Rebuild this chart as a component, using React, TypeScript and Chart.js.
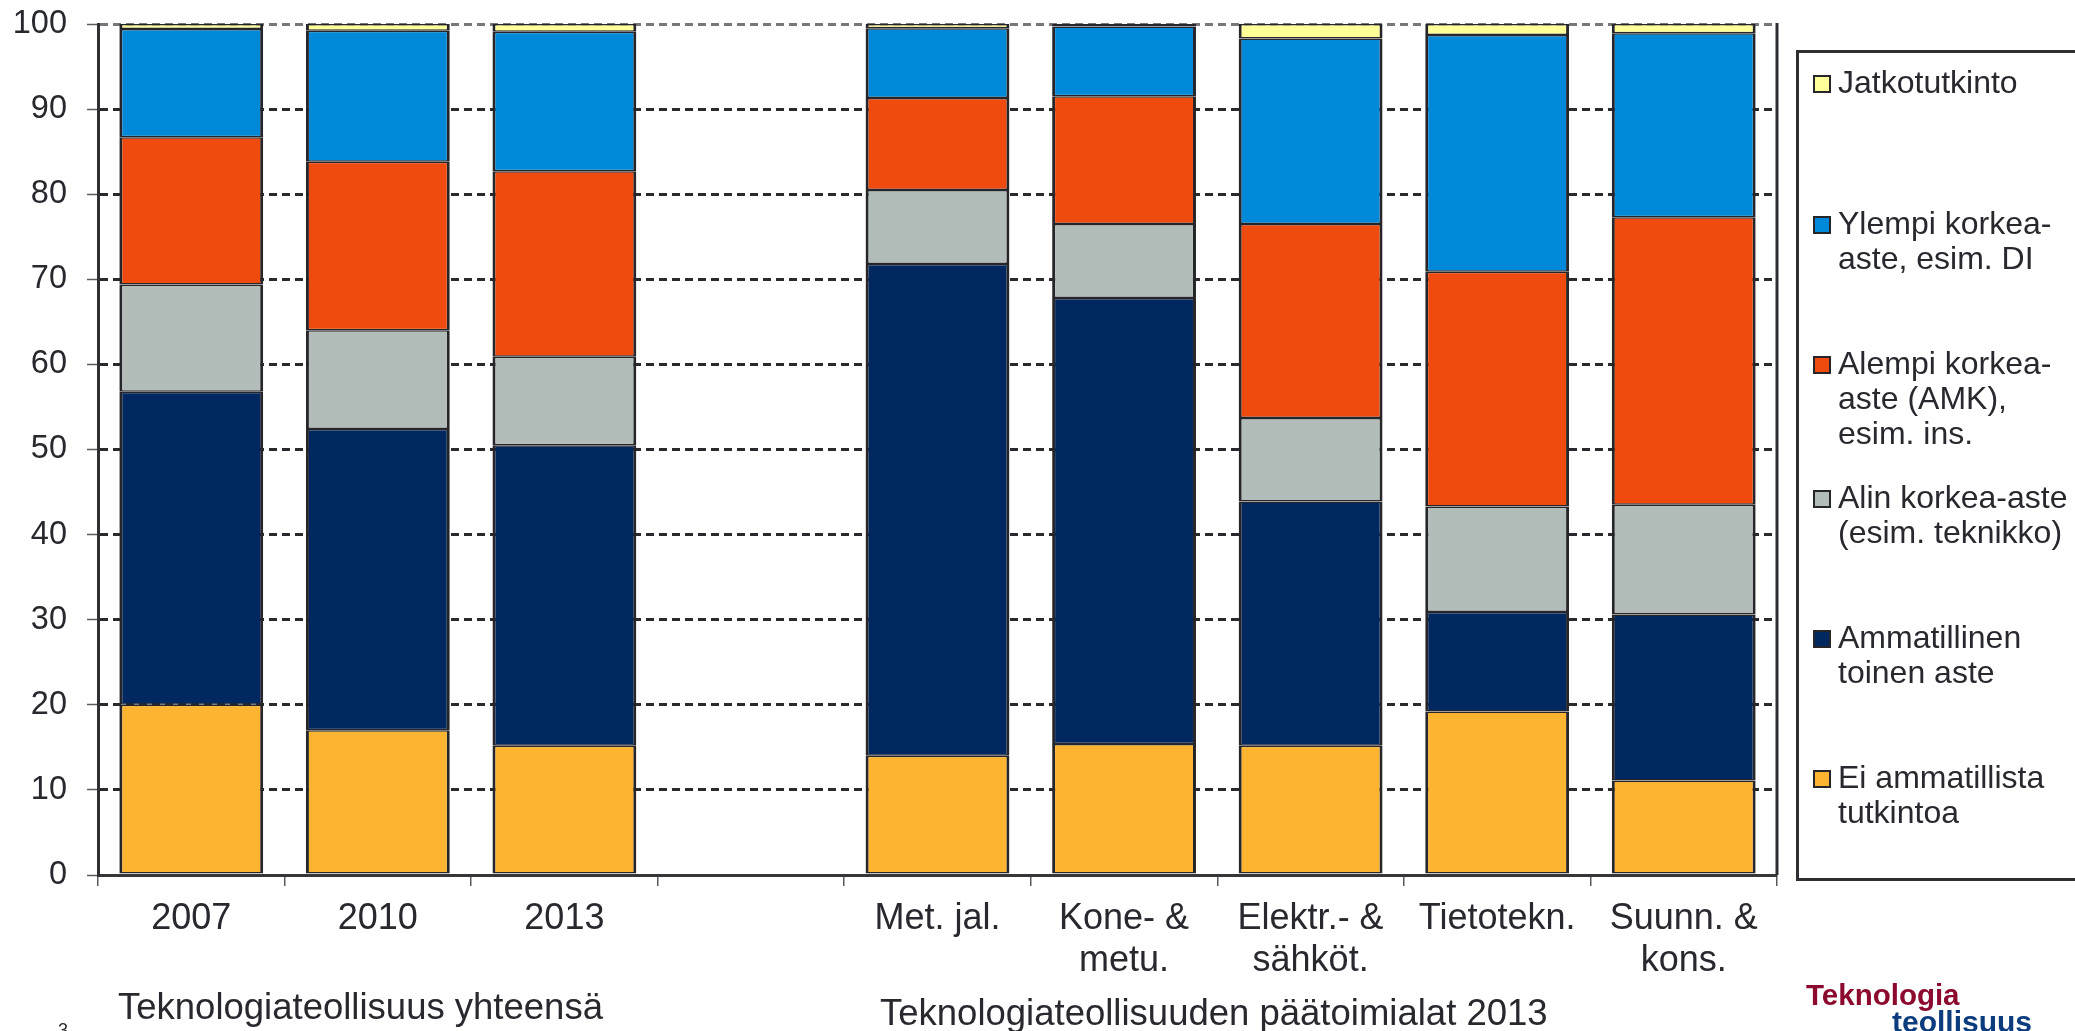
import React, { useEffect, useRef } from "react";
import { Chart, registerables } from "chart.js";

Chart.register(...registerables);

// ---------- DATA ----------
const categories: (string | string[])[] = [
  "2007",
  "2010",
  "2013",
  "",
  ["Met. jal."],
  ["Kone- &", "metu."],
  ["Elektr.- &", "sähköt."],
  ["Tietotekn."],
  ["Suunn. &", "kons."],
];

// stacked from bottom to top (percent)
const eiAmmatillista = [20.0, 17.0, 15.2, null, 14.0, 15.4, 15.2, 19.2, 11.1];
const ammatillinen = [36.8, 35.4, 35.3, null, 57.8, 52.4, 28.7, 11.7, 19.5];
const alinKorkea = [12.6, 11.6, 10.4, null, 8.7, 8.7, 9.8, 12.4, 12.9];
const alempiKorkea = [17.3, 19.8, 21.8, null, 10.8, 15.0, 22.8, 27.6, 33.8];
const ylempiKorkea = [12.7, 15.4, 16.4, null, 8.2, 8.2, 21.8, 27.8, 21.6];
const jatkotutkinto = [0.6, 0.8, 0.9, null, 0.5, 0.3, 1.7, 1.3, 1.1];

const seriesLabels: string[][] = [
  ["Ei ammatillista", "tutkintoa"],
  ["Ammatillinen", "toinen aste"],
  ["Alin korkea-aste", "(esim. teknikko)"],
  ["Alempi korkea-", "aste (AMK),", "esim. ins."],
  ["Ylempi korkea-", "aste, esim. DI"],
  ["Jatkotutkinto"],
];

const yTickMin = 0;
const yTickMax = 100;
const yTickStep = 10;

const groupTitles = ["Teknologiateollisuus yhteensä", "Teknologiateollisuuden päätoimialat 2013"];
const logoLines = ["Teknologia", "teollisuus"];
const pageNumber = "3";

// ---------- STYLE ----------
const FONT = '"Liberation Sans", Arial, Helvetica, sans-serif';
const TEXT = "#28282f";
const EDGE = "#26262a";
const seriesColors = ["#FDB431", "#002860", "#B2BDB9", "#F04B0F", "#0089D9", "#FFFF99"];
// top position (px) of each legend entry, in legend order (top entry first)
const LEGEND_TOPS = [64.5, 205.5, 345.5, 479.5, 619.5, 759.5];

const seriesData = [eiAmmatillista, ammatillinen, alinKorkea, alempiKorkea, ylempiKorkea, jatkotutkinto];

const rightBorderPlugin = {
  id: "rightBorder",
  afterDatasetsDraw(chart: any) {
    const { ctx, chartArea } = chart;
    ctx.save();
    ctx.strokeStyle = "#2e2e33";
    ctx.lineWidth = 3;
    ctx.beginPath();
    ctx.moveTo(chartArea.right, chartArea.top - 1);
    ctx.lineTo(chartArea.right, chartArea.bottom);
    ctx.stroke();
    ctx.restore();
  },
};

export default function App() {
  const ref = useRef<HTMLCanvasElement>(null);

  useEffect(() => {
    const chart = new Chart(ref.current as HTMLCanvasElement, {
      type: "bar",
      data: {
        labels: categories as any,
        datasets: seriesData.map((d, i) => ({
          label: seriesLabels[i].join(" "),
          data: d as any,
          backgroundColor: seriesColors[i],
          borderColor: EDGE,
          borderWidth: { left: 3, right: 3, top: 1.5, bottom: 1.5 },
          borderSkipped: false,
          categoryPercentage: 1,
          barPercentage: 0.771,
        })),
      },
      options: {
        responsive: false,
        animation: false,
        devicePixelRatio: 1,
        layout: { padding: { left: 0, right: 298, top: 24, bottom: 0 } },
        plugins: {
          legend: { display: false },
          tooltip: { enabled: false },
          title: { display: false },
        },
        scales: {
          x: {
            stacked: true,
            grid: {
              offset: true,
              drawOnChartArea: false,
              drawTicks: true,
              tickLength: 11,
              color: "#5a5a5f",
              lineWidth: 1.5,
            },
            border: { display: true, color: "#36363a", width: 3 },
            ticks: {
              color: TEXT,
              font: { family: FONT, size: 36, lineHeight: 1.17 },
              padding: 12,
              maxRotation: 0,
              minRotation: 0,
              autoSkip: false,
            },
            afterFit: (s: any) => {
              s.height = 156;
              s.paddingLeft = 0;
              s.paddingRight = 0;
            },
          },
          y: {
            stacked: true,
            min: yTickMin,
            max: yTickMax,
            ticks: {
              stepSize: yTickStep,
              color: TEXT,
              font: { family: FONT, size: 32.5 },
              padding: 20,
            },
            grid: {
              color: (c: any) => (c.tick && c.tick.value === 100 ? "#77777c" : "#2a2a2e"),
              lineWidth: 3,
              tickLength: 11,
              tickColor: "#5a5a5f",
              tickWidth: 1.5,
              tickBorderDash: [],
            } as any,
            border: { display: true, color: "#2e2e33", width: 3, dash: [8, 5] },
            afterFit: (s: any) => {
              s.width = 98;
              s.paddingTop = 0;
              s.paddingBottom = 0;
            },
          },
        },
      },
      plugins: [rightBorderPlugin],
    });
    return () => chart.destroy();
  }, []);

  const legendOrder = seriesLabels.map((_, i) => i).reverse();

  return (
    <div
      style={{
        position: "fixed",
        left: 0,
        top: 0,
        width: 2075,
        height: 1031,
        overflow: "hidden",
        background: "#ffffff",
        fontFamily: FONT,
        color: TEXT,
      }}
    >
      <canvas
        ref={ref}
        width={2075}
        height={1031}
        style={{ position: "absolute", left: 0, top: 0, width: 2075, height: 1031 }}
      />

      {/* legend box */}
      <div
        style={{
          position: "absolute",
          left: 1796,
          top: 50,
          width: 340,
          height: 831,
          boxSizing: "border-box",
          border: "3px solid #2e2e33",
        }}
      />
      {legendOrder.map((si, k) => (
        <React.Fragment key={si}>
          <div
            style={{
              position: "absolute",
              left: 1813,
              top: LEGEND_TOPS[k] + 10,
              width: 18,
              height: 18,
              boxSizing: "border-box",
              border: "2.5px solid " + EDGE,
              background: seriesColors[si],
            }}
          />
          <div
            style={{
              position: "absolute",
              left: 1838,
              top: LEGEND_TOPS[k],
              fontSize: 32,
              lineHeight: "35px",
              whiteSpace: "pre",
            }}
          >
            {seriesLabels[si].join("\n")}
          </div>
        </React.Fragment>
      ))}

      {/* group titles */}
      <div
        style={{
          position: "absolute",
          left: 118,
          top: 988.5,
          fontSize: 36.5,
          lineHeight: "36.5px",
          whiteSpace: "nowrap",
        }}
      >
        {groupTitles[0]}
      </div>
      <div
        style={{
          position: "absolute",
          left: 880,
          top: 995,
          fontSize: 36.5,
          lineHeight: "36.5px",
          whiteSpace: "nowrap",
        }}
      >
        {groupTitles[1]}
      </div>

      {/* logo */}
      <div
        style={{
          position: "absolute",
          left: 1806,
          top: 980,
          fontSize: 29.5,
          lineHeight: "29.5px",
          fontWeight: 700,
          color: "#8B0A2E",
          whiteSpace: "nowrap",
        }}
      >
        {logoLines[0]}
      </div>
      <div
        style={{
          position: "absolute",
          left: 1892,
          top: 1007,
          fontSize: 30,
          lineHeight: "30px",
          fontWeight: 700,
          color: "#0B3C7D",
          whiteSpace: "nowrap",
        }}
      >
        {logoLines[1]}
      </div>

      {/* page number */}
      <div
        style={{
          position: "absolute",
          left: 58,
          top: 1021,
          fontSize: 18,
          lineHeight: "18px",
          color: TEXT,
        }}
      >
        {pageNumber}
      </div>
    </div>
  );
}
